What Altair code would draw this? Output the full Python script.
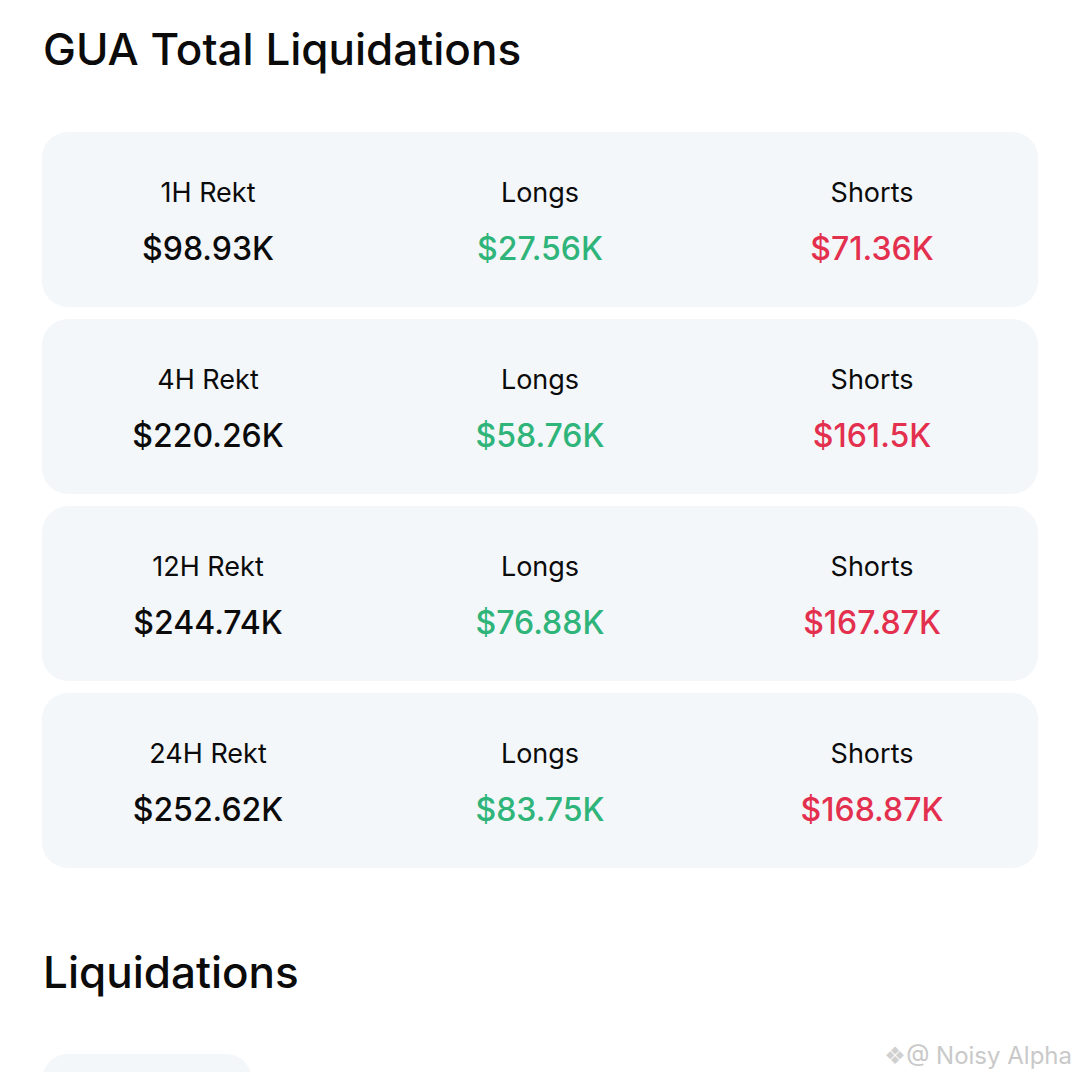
import altair as alt
import pandas as pd

# ---- data ----
periods = ["1H Rekt", "4H Rekt", "12H Rekt", "24H Rekt"]
totals = ["$98.93K", "$220.26K", "$244.74K", "$252.62K"]
longs = ["$27.56K", "$58.76K", "$76.88K", "$83.75K"]
shorts = ["$71.36K", "$161.5K", "$167.87K", "$168.87K"]
col_labels = ["Longs", "Shorts"]
title_text = "GUA Total Liquidations"
section_text = "Liquidations"
watermark_text = "@ Noisy Alpha"
watermark_icon = "❖"

# ---- layout (screen pixels) ----
CARD_X0, CARD_X1 = 42, 1038
CARD_TOP0, CARD_H, CARD_PITCH = 132, 175, 187
COL_W = (CARD_X1 - CARD_X0) / 3
LABEL_OFF, VALUE_OFF = 70, 128
FONT = "Inter"
GREEN = "#2FB47A"
RED = "#E3304E"
DARK = "#0B0B0B"
CARD_FILL = "#F4F7FA"

cards = pd.DataFrame({
    "x": [CARD_X0] * 4, "x2": [CARD_X1] * 4,
    "y": [CARD_TOP0 + i * CARD_PITCH for i in range(4)],
    "y2": [CARD_TOP0 + i * CARD_PITCH + CARD_H for i in range(4)],
})
# partial card at the bottom
cards = pd.concat([cards, pd.DataFrame({"x": [42], "x2": [252], "y": [1054], "y2": [1110]})],
                  ignore_index=True)

label_rows, value_rows = [], []
for i in range(4):
    top = CARD_TOP0 + i * CARD_PITCH
    for j, (lab, val, colr) in enumerate([
        (periods[i], totals[i], DARK),
        (col_labels[0], longs[i], GREEN),
        (col_labels[1], shorts[i], RED),
    ]):
        cx = CARD_X0 + COL_W * (j + 0.5)
        label_rows.append({"x": cx, "y": top + LABEL_OFF, "t": lab})
        value_rows.append({"x": cx, "y": top + VALUE_OFF, "t": val, "c": colr})
labels = pd.DataFrame(label_rows)
values = pd.DataFrame(value_rows)

heads = pd.DataFrame({"x": [43, 43], "y": [65, 988], "t": [title_text, section_text]})
wm = pd.DataFrame({"x": [1072], "y": [1064], "t": [watermark_text]})
wm_icon = pd.DataFrame({"x": [895], "y": [1064], "t": [watermark_icon]})

xs = alt.Scale(domain=[8, 1072])
ys = alt.Scale(domain=[8, 1072], reverse=True)
X = lambda f="x": alt.X(f, type="quantitative", scale=xs, axis=None)
Y = lambda f="y": alt.Y(f, type="quantitative", scale=ys, axis=None)

card_layer = alt.Chart(cards).mark_rect(cornerRadius=26, fill=CARD_FILL, clip=True).encode(
    x=X(), x2="x2", y=Y(), y2="y2")

label_layer = alt.Chart(labels).mark_text(
    font=FONT, fontSize=27, fontWeight=400, color=DARK, align="center", baseline="alphabetic"
).encode(x=X(), y=Y(), text="t")

value_layer = alt.Chart(values).mark_text(
    font=FONT, fontSize=32, fontWeight=500, align="center", baseline="alphabetic"
).encode(x=X(), y=Y(), text="t", color=alt.Color("c:N", scale=None))

head_layer = alt.Chart(heads).mark_text(
    font=FONT, fontSize=44, fontWeight=500, color=DARK, align="left", baseline="alphabetic"
).encode(x=X(), y=Y(), text="t")

wm_layer = alt.Chart(wm).mark_text(
    font=FONT, fontSize=24, color="#C9C9C9", align="right", baseline="alphabetic"
).encode(x=X(), y=Y(), text="t")

wm_icon_layer = alt.Chart(wm_icon).mark_text(
    font="DejaVu Sans", fontSize=24, color="#D0D0D0", align="center", baseline="alphabetic"
).encode(x=X(), y=Y(), text="t")

chart = alt.layer(card_layer, label_layer, value_layer, head_layer, wm_layer, wm_icon_layer).properties(
    width=1064, height=1064, autosize=alt.AutoSizeParams(type="none"), padding=0,
    background="#FFFFFF"
).configure_view(stroke=None)

chart.save("out.html", embed_options={"renderer": "svg", "actions": False})
